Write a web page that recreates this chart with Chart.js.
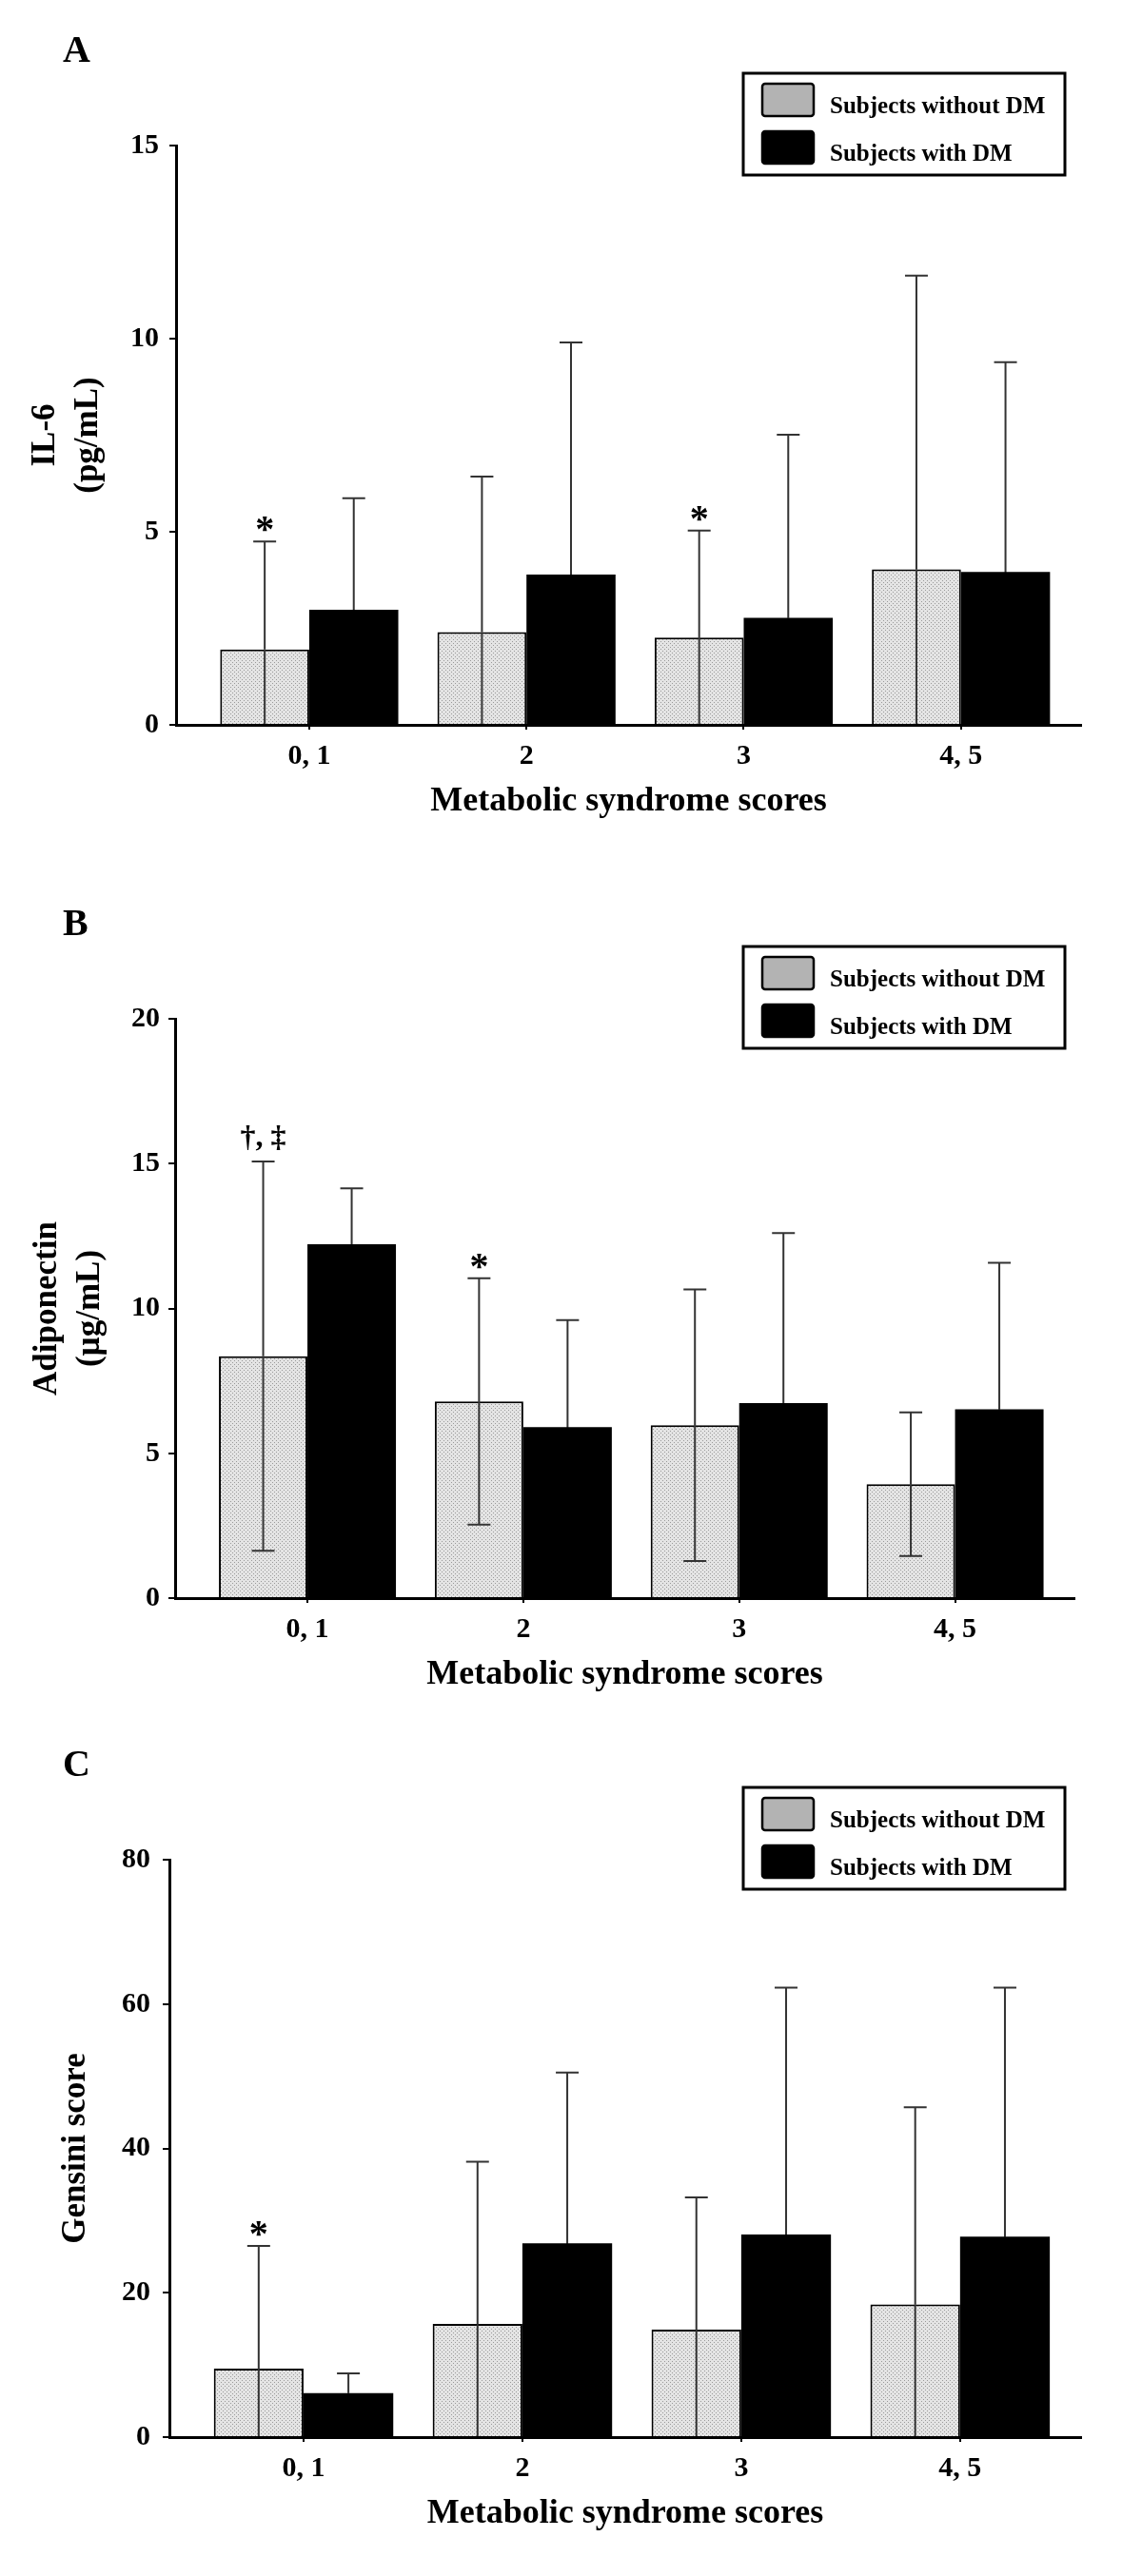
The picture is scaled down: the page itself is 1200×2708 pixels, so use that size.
<!DOCTYPE html>
<html>
<head>
<meta charset="utf-8">
<script src="https://cdn.jsdelivr.net/npm/chart.js@4.4.1/dist/chart.umd.min.js"></script>
<style>
  body { margin: 0; background: #fff; }
  canvas { display: block; }
</style>
</head>
<body>
<canvas id="chartA" width="1200" height="900"></canvas>
<canvas id="chartB" width="1200" height="900"></canvas>
<canvas id="chartC" width="1200" height="908"></canvas>
<script>
const categories = ["0, 1", "2", "3", "4, 5"];
const seriesNames = ["Subjects without DM", "Subjects with DM"];
const xTitle = "Metabolic syndrome scores";

// IL-6 (pg/mL): mean and SD
const il6Without = [1.95, 2.40, 2.26, 4.03];
const il6WithoutSd = [2.80, 4.03, 2.77, 7.60];
const il6With = [2.98, 3.89, 2.77, 3.96];
const il6WithSd = [2.89, 6.01, 4.74, 5.43];
const il6Marks = ["*", "", "*", ""];
const il6Ticks = [0, 5, 10, 15];

// Adiponectin (µg/mL): mean and SD
const adipoWithout = [8.35, 6.79, 5.97, 3.93];
const adipoWithoutSd = [6.72, 4.25, 4.69, 2.48];
const adipoWith = [12.22, 5.90, 6.73, 6.52];
const adipoWithSd = [1.93, 3.70, 5.87, 5.06];
const adipoMarks = ["†, ‡", "*", "", ""];
const adipoTicks = [0, 5, 10, 15, 20];

// Gensini score: mean and SD
const gensiniWithout = [9.5, 15.67, 14.9, 18.4];
const gensiniWithoutSd = [17.0, 22.5, 18.3, 27.3];
const gensiniWith = [6.08, 26.84, 28.06, 27.76];
const gensiniWithSd = [2.74, 23.66, 34.2, 34.5];
const gensiniMarks = ["*", "", "", ""];
const gensiniTicks = [0, 20, 40, 60, 80];

const SERIF = "'Liberation Serif', 'Times New Roman', serif";

function stipple(ctx) {
    const tile = document.createElement("canvas");
    tile.width = 4;
    tile.height = 4;
    const g = tile.getContext("2d");
    g.fillStyle = "#e4e4e4";
    g.fillRect(0, 0, 4, 4);
    g.fillStyle = "#9a9a9a";
    g.fillRect(0, 0, 1, 1);
    g.fillRect(2, 2, 1, 1);
    return ctx.createPattern(tile, "repeat");
}

// error bars, significance marks, boxed legend and panel letter
const extras = {
    id: "extras",
    afterDatasetsDraw(chart) {
        const ctx = chart.ctx;
        const y = chart.scales.y;
        const area = chart.chartArea;
        ctx.save();
        ctx.lineWidth = 2;
        chart.data.datasets.forEach((ds, d) => {
            chart.getDatasetMeta(d).data.forEach((bar, i) => {
                const v = ds.data[i].y;
                const sd = ds.sd[i];
                const hi = y.getPixelForValue(v + sd);
                const mid = y.getPixelForValue(v);
                const lo = Math.min(y.getPixelForValue(v - sd), area.bottom);
                ctx.strokeStyle = "#333";
                ctx.beginPath();
                ctx.moveTo(bar.x, hi);
                ctx.lineTo(bar.x, mid);
                ctx.moveTo(bar.x - 12, hi);
                ctx.lineTo(bar.x + 12, hi);
                ctx.stroke();
                ctx.strokeStyle = ds.errorInside;
                ctx.beginPath();
                ctx.moveTo(bar.x, mid);
                ctx.lineTo(bar.x, lo);
                if (v - sd > 0) {
                    ctx.moveTo(bar.x - 12, lo);
                    ctx.lineTo(bar.x + 12, lo);
                }
                ctx.stroke();
            });
        });
        ctx.restore();
    },
    afterDraw(chart, args, opts) {
        const ctx = chart.ctx;
        const y = chart.scales.y;
        const area = chart.chartArea;
        ctx.save();
        ctx.fillStyle = "#000";

        // significance marks over the "without DM" bars
        const ds0 = chart.data.datasets[0];
        const bars0 = chart.getDatasetMeta(0).data;
        ctx.textAlign = "center";
        ctx.textBaseline = "alphabetic";
        opts.marks.forEach((m, i) => {
            if (!m) return;
            const cap = y.getPixelForValue(ds0.data[i].y + ds0.sd[i]);
            if (m === "*") {
                ctx.font = "bold 40px " + SERIF;
                ctx.fillText(m, bars0[i].x, cap);
            } else {
                ctx.font = "bold 32px " + SERIF;
                ctx.fillText(m, bars0[i].x, cap - 16);
            }
        });

        // panel letter
        ctx.textAlign = "left";
        ctx.font = "bold 40px " + SERIF;
        ctx.fillText(opts.letter, 66, area.top - 88);

        // boxed legend
        const bx = 781, by = area.top - 76, bw = 338, bh = 107;
        ctx.lineWidth = 3;
        ctx.strokeStyle = "#000";
        ctx.strokeRect(bx, by, bw, bh);
        ctx.font = "bold 25px " + SERIF;
        chart.data.datasets.forEach((ds, d) => {
            const sy = by + 11 + d * 50;
            ctx.beginPath();
            ctx.roundRect(bx + 20, sy, 54, 34, 3);
            ctx.fillStyle = ds.legendFill;
            ctx.fill();
            ctx.lineWidth = 2.5;
            ctx.stroke();
            ctx.fillStyle = "#000";
            ctx.fillText(ds.label, bx + 91, sy + 31);
        });
        ctx.restore();
    }
};

function makePanel(id, p) {
    const canvas = document.getElementById(id);
    const fill = stipple(canvas.getContext("2d"));
    const points = arr => arr.map((v, i) => ({ x: i, y: v }));

    new Chart(canvas, {
        type: "bar",
        data: {
            datasets: [
                {
                    label: seriesNames[0],
                    data: points(p.without),
                    sd: p.withoutSd,
                    backgroundColor: fill,
                    borderColor: "#000",
                    borderWidth: 2,
                    legendFill: "#b3b3b3",
                    errorInside: "#333",
                },
                {
                    label: seriesNames[1],
                    data: points(p.with),
                    sd: p.withSd,
                    backgroundColor: "#000",
                    borderColor: "#000",
                    borderWidth: 0,
                    legendFill: "#000",
                    errorInside: "#000",
                },
            ],
        },
        options: {
            responsive: false,
            animation: false,
            categoryPercentage: 0.82,
            barPercentage: 1.0,
            layout: {
                padding: { top: p.top, left: 0, right: 1200 - p.right, bottom: p.height - p.bottom - 110 },
            },
            scales: {
                x: {
                    type: "linear",
                    offset: false,
                    min: -0.613,
                    max: 3.553,
                    afterBuildTicks: s => { s.ticks = categories.map((c, i) => ({ value: i })); },
                    afterFit: s => { s.height = 110; },
                    grid: { offset: false, drawOnChartArea: false, drawTicks: true, tickLength: 5, lineWidth: 2, color: "#000" },
                    border: { display: true, color: "#000", width: 3, z: 1 },
                    ticks: {
                        callback: v => categories[v],
                        color: "#000",
                        padding: 10,
                        maxRotation: 0,
                        autoSkip: false,
                        font: { family: SERIF, size: 30, weight: "bold" },
                    },
                    title: {
                        display: true,
                        text: xTitle,
                        color: "#000",
                        font: { family: SERIF, size: 36, weight: "bold" },
                        padding: { top: 0, bottom: 8 },
                    },
                },
                y: {
                    min: p.ticks[0],
                    max: p.ticks[p.ticks.length - 1],
                    afterBuildTicks: s => { s.ticks = p.ticks.map(v => ({ value: v })); },
                    afterFit: s => { s.width = p.left; },
                    grid: { drawOnChartArea: false, drawTicks: true, tickLength: 7, lineWidth: 2, color: "#000" },
                    border: { display: true, color: "#000", width: 3, z: 1 },
                    ticks: {
                        color: "#000",
                        padding: p.tickPad,
                        font: { family: SERIF, size: 30, weight: "bold" },
                    },
                    title: {
                        display: true,
                        text: p.yTitle,
                        color: "#000",
                        font: { family: SERIF, size: 35, weight: "bold", lineHeight: 1.3 },
                        padding: { top: p.titlePad, bottom: 0 },
                    },
                },
            },
            plugins: {
                legend: { display: false },
                tooltip: { enabled: false },
                extras: { marks: p.marks, letter: p.letter },
            },
        },
        plugins: [extras],
    });
}

makePanel("chartA", {
    without: il6Without, withoutSd: il6WithoutSd, with: il6With, withSd: il6WithSd,
    marks: il6Marks, ticks: il6Ticks, yTitle: ["IL-6", "(pg/mL)"], letter: "A",
    height: 900, top: 153, bottom: 762, left: 185, right: 1136, tickPad: 11, titlePad: 25,
});
makePanel("chartB", {
    without: adipoWithout, withoutSd: adipoWithoutSd, with: adipoWith, withSd: adipoWithSd,
    marks: adipoMarks, ticks: adipoTicks, yTitle: ["Adiponectin", "(µg/mL)"], letter: "B",
    height: 900, top: 171, bottom: 780, left: 184, right: 1129, tickPad: 9, titlePad: 27,
});
makePanel("chartC", {
    without: gensiniWithout, withoutSd: gensiniWithoutSd, with: gensiniWith, withSd: gensiniWithSd,
    marks: gensiniMarks, ticks: gensiniTicks, yTitle: "Gensini score", letter: "C",
    height: 908, top: 155, bottom: 762, left: 178, right: 1136, tickPad: 13, titlePad: 57,
});
</script>
</body>
</html>
